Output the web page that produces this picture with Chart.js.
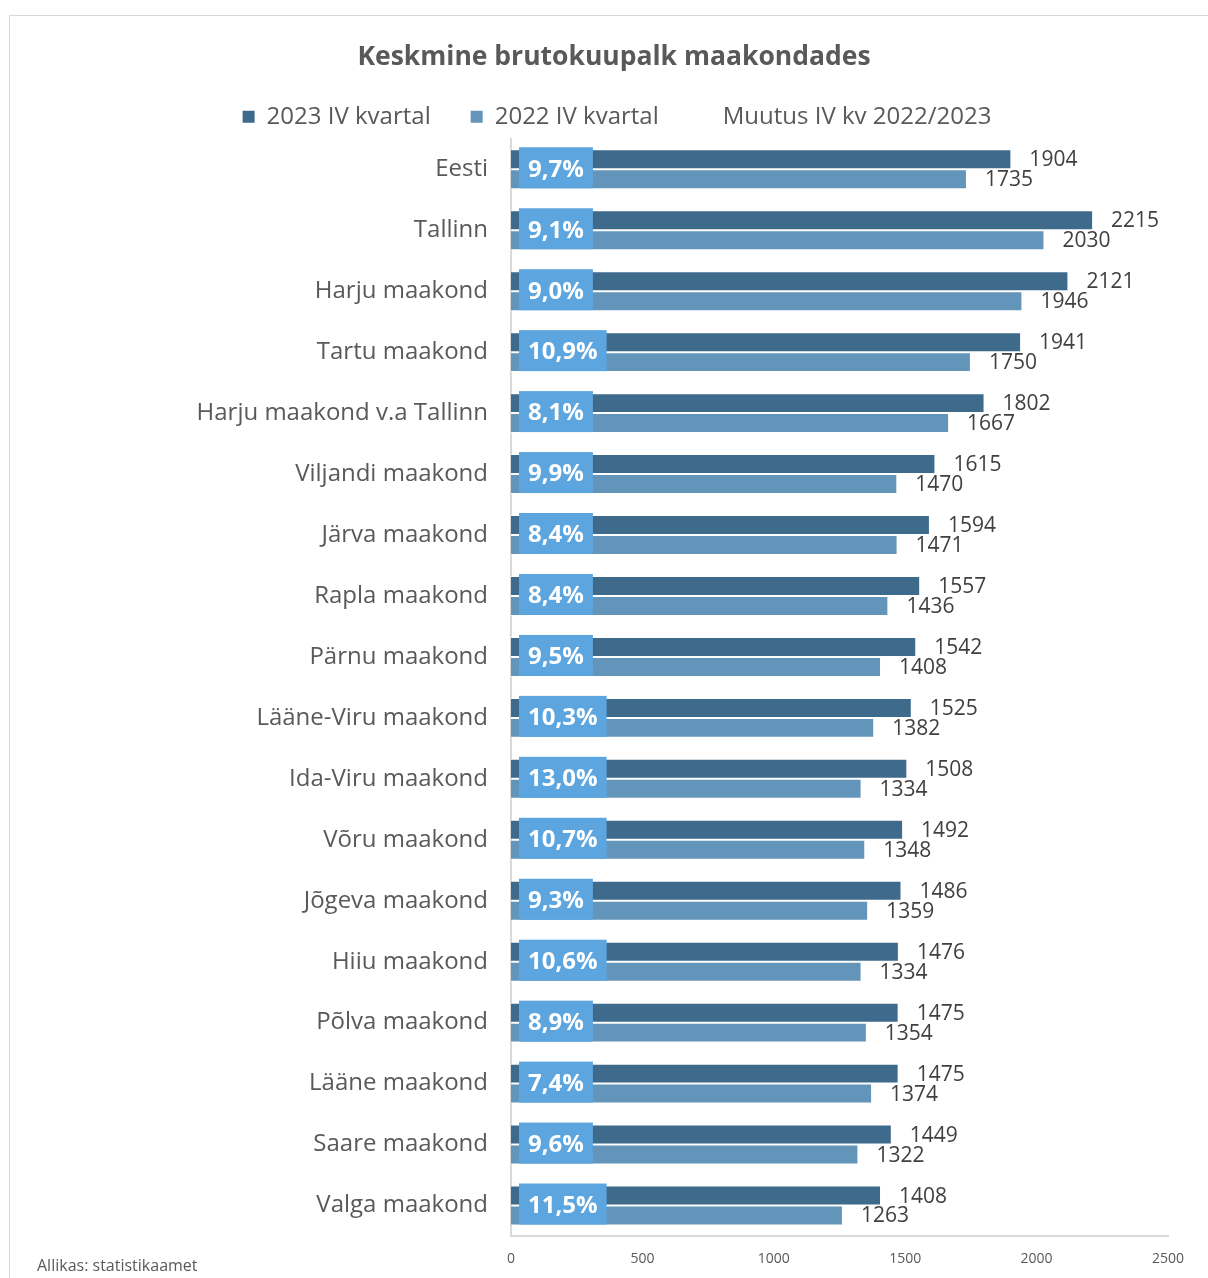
<!DOCTYPE html>
<html><head><meta charset="utf-8">
<script src="https://cdn.jsdelivr.net/npm/chart.js@4"></script>
<style>
html,body{margin:0;padding:0;background:#fff;overflow:hidden;width:1208px;height:1278px;}
#frame{position:absolute;left:9px;top:15px;width:1300px;height:1300px;border-left:1px solid #d9d9d9;border-top:1px solid #d9d9d9;}
#c{position:absolute;left:10px;top:16px;}
</style></head>
<body>
<div id="frame"></div>
<canvas id="c" width="1208" height="1262"></canvas>
<script>
const categories = ['Eesti','Tallinn','Harju maakond','Tartu maakond','Harju maakond v.a Tallinn','Viljandi maakond','Järva maakond','Rapla maakond','Pärnu maakond','Lääne-Viru maakond','Ida-Viru maakond','Võru maakond','Jõgeva maakond','Hiiu maakond','Põlva maakond','Lääne maakond','Saare maakond','Valga maakond'];
const values2023 = [1904,2215,2121,1941,1802,1615,1594,1557,1542,1525,1508,1492,1486,1476,1475,1475,1449,1408];
const values2022 = [1735,2030,1946,1750,1667,1470,1471,1436,1408,1382,1334,1348,1359,1334,1354,1374,1322,1263];
const changePct = [9.7,9.1,9.0,10.9,8.1,9.9,8.4,8.4,9.5,10.3,13.0,10.7,9.3,10.6,8.9,7.4,9.6,11.5];
const seriesNames = ['2023 IV kvartal','2022 IV kvartal','Muutus IV kv 2022/2023'];
const xTicks = [0,500,1000,1500,2000,2500];
const sourceText = 'Allikas: statistikaamet';

const FONT = "'Open Sans', 'Noto Sans', sans-serif";
const C_DARK = '#3e6a8c', C_LIGHT = '#6395ba', C_BOX = '#5da5de';

const labelPlugin = {
  id: 'labels',
  afterLayout(chart) {
    if (chart.legend) { chart.legend.left += 3; chart.legend.right += 3; }
  },
  afterDatasetsDraw(chart) {
    const ctx = chart.ctx;
    const xs = chart.scales.x, ys = chart.scales.y;
    ctx.save();
    ctx.font = '21px ' + FONT;
    ctx.fillStyle = '#404040';
    ctx.textAlign = 'left';
    ctx.textBaseline = 'middle';
    chart.data.datasets.forEach((ds, di) => {
      const meta = chart.getDatasetMeta(di);
      meta.data.forEach((bar, i) => {
        ctx.fillText(String(ds.data[i]), bar.x + 18, bar.y + 1);
      });
    });
    ctx.font = 'bold 24px ' + FONT;
    const x0 = xs.getPixelForValue(0) + 8;
    changePct.forEach((v, i) => {
      const t = v.toFixed(1).replace('.', ',') + '%';
      const w = ctx.measureText(t).width + 18;
      const yc = ys.getPixelForValue(i) - 1.5;
      ctx.fillStyle = C_BOX;
      ctx.fillRect(x0, yc - 20.5, w, 41);
      ctx.fillStyle = '#ffffff';
      ctx.textAlign = 'center';
      ctx.fillText(t, x0 + w / 2, yc + 2);
    });
    ctx.font = '16px ' + FONT;
    ctx.fillStyle = '#595959';
    ctx.textAlign = 'left';
    ctx.fillText(sourceText, 27, 1250);
    ctx.restore();
  }
};

new Chart(document.getElementById('c'), {
  type: 'bar',
  data: {
    labels: categories,
    datasets: [
      { label: seriesNames[0], data: values2023, backgroundColor: C_DARK, borderColor: 'rgba(255,255,255,0.75)', borderWidth: 1, categoryPercentage: 0.655, barPercentage: 1 },
      { label: seriesNames[1], data: values2022, backgroundColor: C_LIGHT, borderColor: 'rgba(255,255,255,0.75)', borderWidth: 1, categoryPercentage: 0.655, barPercentage: 1 }
    ]
  },
  options: {
    indexAxis: 'y',
    responsive: false,
    animation: false,
    layout: { padding: { left: 50, right: 50, top: 0, bottom: 0 } },
    plugins: {
      title: { display: true, text: 'Keskmine brutokuupalk maakondades', color: '#595959',
        font: { family: FONT, size: 26.5, weight: 'bold' }, padding: { top: 26, bottom: -9 } },
      legend: { display: true, position: 'top',
        labels: {
          color: '#595959', font: { family: FONT, size: 24 }, boxWidth: 12, boxHeight: 12, padding: 40,
          generateLabels: () => [
            { text: seriesNames[0], fillStyle: C_DARK, strokeStyle: C_DARK, lineWidth: 0, fontColor: '#595959', datasetIndex: 0 },
            { text: seriesNames[1], fillStyle: C_LIGHT, strokeStyle: C_LIGHT, lineWidth: 0, fontColor: '#595959', datasetIndex: 1 },
            { text: seriesNames[2], fillStyle: 'rgba(0,0,0,0)', strokeStyle: 'rgba(0,0,0,0)', lineWidth: 0, fontColor: '#595959' }
          ]
        }
      },
      tooltip: { enabled: false }
    },
    scales: {
      x: {
        min: 0, max: 2500,
        afterBuildTicks: s => { s.ticks = xTicks.map(v => ({ value: v })); },
        afterFit: s => { s.height = 42; },
        grid: { display: false },
        border: { display: true, color: '#d9d9d9', width: 2 },
        ticks: { color: '#595959', font: { family: FONT, size: 14 }, padding: 7, maxRotation: 0, callback: v => String(v) }
      },
      y: {
        afterFit: s => { s.width = 451; },
        grid: { display: false },
        border: { display: true, color: '#d9d9d9', width: 2 },
        ticks: { color: '#595959', font: { family: FONT, size: 24 }, padding: 15, autoSkip: false }
      }
    }
  },
  plugins: [labelPlugin]
});
</script>
</body></html>
